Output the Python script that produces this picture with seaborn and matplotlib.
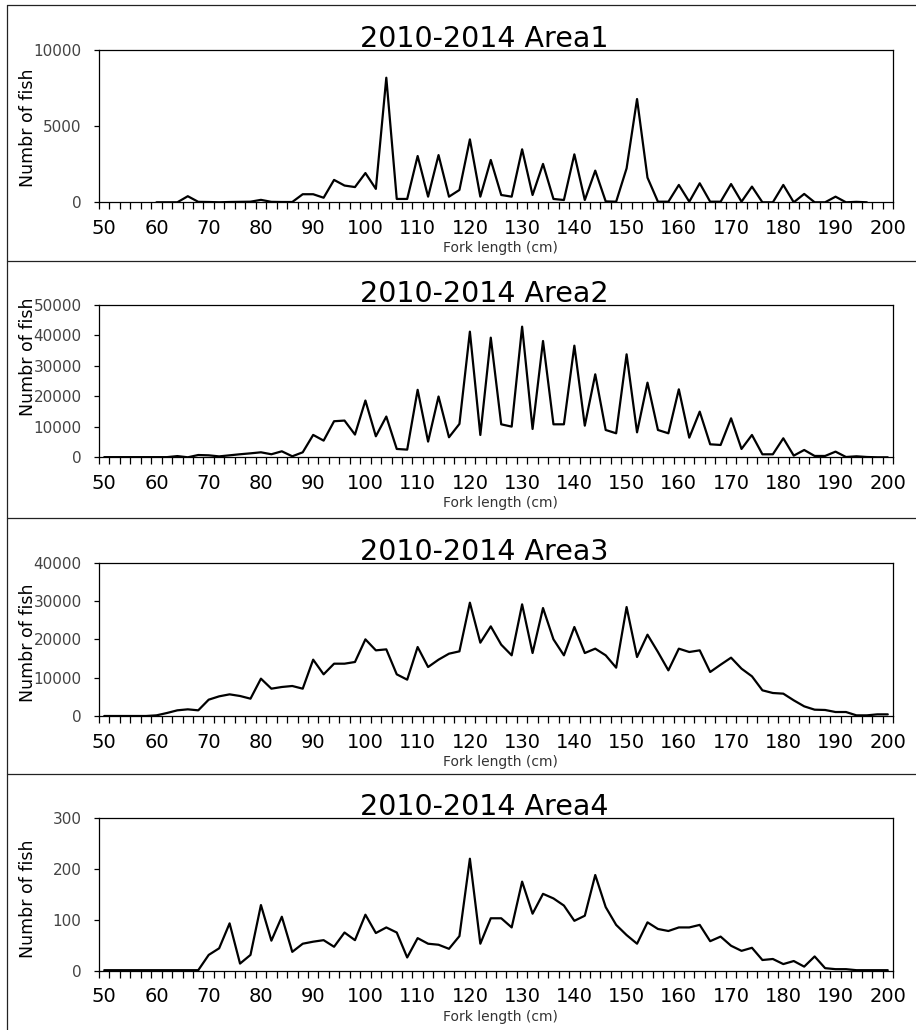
import numpy as np
import pandas as pd
import matplotlib
matplotlib.use("Agg")
import matplotlib.pyplot as plt
from matplotlib.ticker import FixedLocator, NullFormatter
from matplotlib.lines import Line2D
import seaborn as sns

sns.set_style("white")
plt.rcParams['font.family'] = ['DejaVu Sans']

nan = np.nan

# Fork length categories (cm), one every 2 cm
fork_length = list(range(50, 202, 2))

area1 = [nan, nan, nan, nan, nan, 0, 0, 0, 400, 30,
         20, 0, 20, 30, 40, 160, 30, 20, 20, 530,
         530, 300, 1470, 1100, 1000, 1920, 880, 8180, 220, 220,
         3040, 370, 3100, 370, 810, 4130, 370, 2780, 480, 370,
         3480, 480, 2520, 220, 150, 3150, 150, 2080, 60, 40,
         2230, 6780, 1620, 40, 40, 1140, 40, 1250, 40, 40,
         1200, 40, 1030, 0, 0, 1140, 0, 550, 0, 0,
         370, 0, 30, 0, nan, nan]

area2 = [50, 50, 50, 50, 50, 50, 50, 400, 0, 750,
         650, 300, 650, 1000, 1300, 1640, 1000, 1970, 330, 1640,
         7350, 5480, 11840, 12060, 7460, 18640, 6900, 13380, 2740, 2520,
         22150, 5150, 19960, 6580, 10960, 41250, 7330, 39280, 10830, 10070,
         42890, 9300, 38180, 10830, 10830, 36650, 10390, 27240, 8970, 7880,
         33810, 8200, 24510, 8970, 7880, 22320, 6450, 14990, 4270, 4050,
         12800, 2740, 7330, 985, 985, 6240, 550, 2400, 440, 440,
         1860, 100, 330, 100, 0, 0]

area3 = [0, 0, 0, 0, 0, 170, 780, 1480, 1740, 1480,
         4260, 5130, 5650, 5220, 4520, 9740, 7130, 7570, 7830, 7130,
         14700, 10870, 13650, 13650, 14090, 20000, 17130, 17390, 10870, 9480,
         18000, 12780, 14700, 16260, 16870, 29570, 19130, 23390, 18610, 15830,
         29130, 16430, 28170, 20000, 15830, 23220, 16430, 17570, 15830, 12610,
         28430, 15390, 21220, 16700, 11910, 17570, 16700, 17130, 11480, 13390,
         15220, 12350, 10350, 6700, 6000, 5830, 4090, 2520, 1650, 1570,
         1040, 1040, 170, 170, 430, 430]

area4 = [1, 1, 1, 1, 1, 1, 1, 1, 1, 1,
         31, 44, 93, 14, 31, 129, 59, 106, 37, 53,
         57, 60, 47, 75, 60, 110, 74, 85, 75, 26,
         64, 53, 51, 43, 68, 220, 53, 103, 103, 85,
         175, 112, 151, 142, 128, 98, 108, 188, 125, 90,
         70, 53, 95, 82, 78, 85, 85, 90, 58, 67,
         49, 39, 45, 21, 23, 13, 19, 8, 28, 5,
         3, 3, 1, 1, 1, 1]

titles = ["2010-2014 Area1", "2010-2014 Area2", "2010-2014 Area3", "2010-2014 Area4"]
y_ticks = [[0, 5000, 10000],
           [0, 10000, 20000, 30000, 40000, 50000],
           [0, 10000, 20000, 30000, 40000],
           [0, 100, 200, 300]]
x_labels = list(range(50, 201, 10))

W, H = 916, 1030
fig = plt.figure(figsize=(W / 100, H / 100), dpi=100)

# axes pixel boxes: (top, bottom)
boxes = [(50, 202.3), (305, 457.3), (562.7, 716), (818, 970.7)]
left_px, right_px = 99, 893
ylabel_y = [128, 357, 643, 899]
panel_tops = [5, 261, 518, 774]

series = [area1, area2, area3, area4]
for k, (vals, title, yt) in enumerate(zip(series, titles, y_ticks)):
    top, bot = boxes[k]
    ax = fig.add_axes([left_px / W, 1 - bot / H, (right_px - left_px) / W, (bot - top) / H])
    df = pd.DataFrame({"len": fork_length, "n": vals})
    sns.lineplot(data=df, x="len", y="n", ax=ax, color="black", lw=1.6)
    ax.set_xlim(49, 201)
    ax.set_ylim(yt[0], yt[-1])
    ax.set_xlabel("")
    ax.set_ylabel("")
    ax.xaxis.set_major_locator(FixedLocator(x_labels))
    ax.xaxis.set_minor_locator(FixedLocator(list(range(49, 202, 2))))
    ax.xaxis.set_minor_formatter(NullFormatter())
    ax.set_xticklabels([str(v) for v in x_labels])
    ax.tick_params(axis="x", which="major", length=0, pad=12, labelsize=14, labelcolor="black")
    ax.tick_params(axis="x", which="minor", length=5, width=0.9, direction="out",
                   color="black", bottom=True)
    ax.set_yticks(yt)
    ax.set_yticklabels([str(v) for v in yt])
    ax.tick_params(axis="y", which="major", length=3.5, width=0.9, direction="out",
                   color="black", pad=9, labelsize=11, labelcolor="#444444", left=True)
    for s in ax.spines.values():
        s.set_visible(True)
        s.set_color("black")
        s.set_linewidth(0.9)
    ax.set_title(title, fontsize=20.5, pad=2, color="black",
                 x=(484 - left_px) / (right_px - left_px))
    fig.text(500 / W, 1 - (bot + 46) / H, "Fork length (cm)", ha="center", va="center",
             fontsize=10, color="#333333")
    fig.text(28 / W, 1 - ylabel_y[k] / H, "Numbr of fish", rotation=90, ha="center",
             va="center", fontsize=12.5, color="black")

# panel borders
for t in panel_tops:
    fig.add_artist(Line2D([7 / W, 1], [1 - t / H, 1 - t / H], color="#222222", lw=0.9))
fig.add_artist(Line2D([7 / W, 7 / W], [0, 1 - 5 / H], color="#222222", lw=0.9))

fig.savefig("out.png", dpi=100)
